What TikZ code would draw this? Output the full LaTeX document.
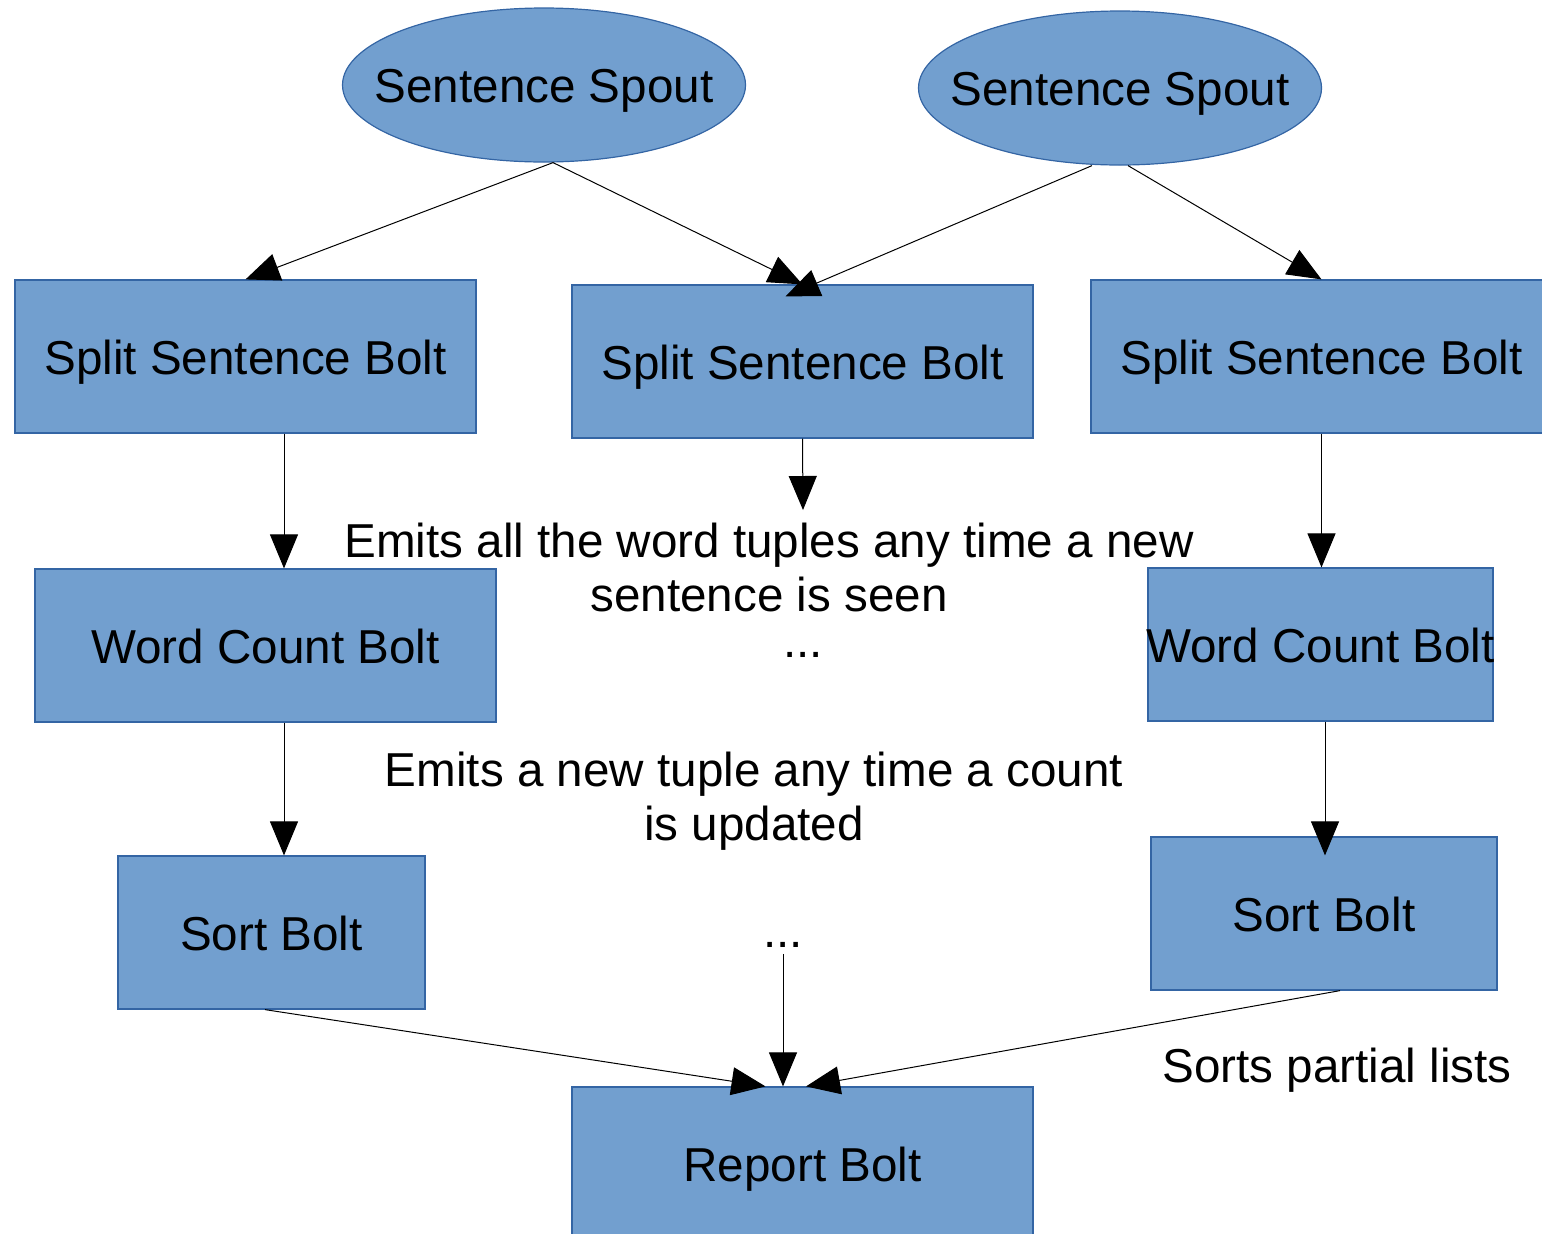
\documentclass[tikz,border=0pt]{standalone}
\usepackage{fontspec}
\setmainfont{Liberation Sans}
\usetikzlibrary{shapes.geometric,arrows.meta,calc}

\definecolor{boxfill}{HTML}{729FCF}
\definecolor{boxline}{HTML}{3465A4}

\tikzset{
  block/.style={rectangle, draw=boxline, fill=boxfill, line width=0.6pt,
    minimum height=76.5pt, inner sep=0pt, text height=18pt, text depth=0pt,
    font=\fontsize{23.8}{27}\selectfont},
  spout/.style={ellipse, draw=boxline, fill=boxfill, line width=0.6pt,
    minimum width=201.5pt, minimum height=77pt, inner sep=0pt,
    text height=17pt, text depth=0pt, font=\fontsize{23.8}{27}\selectfont},
  note/.style={align=center, inner sep=0pt, font=\fontsize{23.8}{27}\selectfont},
  flow/.style={line width=0.5pt, -{Triangle[length=17pt,width=14pt]}}
}

\begin{document}
\begin{tikzpicture}[x=0.5pt,y=-0.5pt]
  \useasboundingbox (0,0) rectangle (1542,1233);

  % spouts (label kept zero-width so the ellipse keeps its set size)
  \node[spout] (sp1) at (544,85) {\makebox[0pt]{Sentence Spout}};
  \node[spout] (sp2) at (1120,88) {\makebox[0pt]{Sentence Spout}};

  % split sentence bolts
  \node[block, minimum width=230.5pt] (ss1) at (245.5,356.5) {Split Sentence Bolt};
  \node[block, minimum width=230.5pt] (ss2) at (802.5,361.5) {Split Sentence Bolt};
  \node[block, minimum width=230.5pt] (ss3) at (1321.5,356.5) {Split Sentence Bolt};

  % word count bolts
  \node[block, minimum width=230.5pt] (wc1) at (265.5,645.5) {Word Count Bolt};
  \node[block, minimum width=172.5pt] (wc2) at (1320.5,644.5) {\makebox[0pt]{Word Count Bolt}};

  % sort bolts
  \node[block, minimum width=153.5pt] (so1) at (271.5,932.5) {Sort Bolt};
  \node[block, minimum width=173pt] (so2) at (1324,913.5) {Sort Bolt};

  % report bolt
  \node[block, minimum width=230.5pt] (rep) at (802.5,1163.5) {Report Bolt};

  % annotations
  \node[note] (n1) at (769,567) {Emits all the word tuples any time a new\\sentence is seen};
  \node[note] (d1) at (803,655) {...};
  \node[note] (n2) at (754,801) {Emits a new tuple any time a count\\is updated};
  \node[note] (d2) at (783,945) {...};
  \node[note] (n3) at (1337,1070) {Sorts partial lists};
  \coordinate (e1) at (803,510);

  % spouts to split bolts
  \draw[flow] ($(sp1.south)+(9,0)$) -- (ss1.north);
  \draw[flow] ($(sp1.south)+(9,0)$) -- (ss2.north);
  \draw[flow] ($(sp2.south)+(-28,0)$) -- ($(ss2.north)+(-17,12)$);
  \draw[flow] ($(sp2.south)+(8,0)$) -- (ss3.north);

  % split bolts downward
  \draw[flow] ($(ss1.south)+(38.5,0)$) -- ($(wc1.north)+(18.5,0)$);
  \draw[flow] (ss2.south) -- (e1);
  \draw[flow] (ss3.south) -- ($(wc2.north)+(1,0)$);

  % word count to sort
  \draw[flow] ($(wc1.south)+(18.5,0)$) -- ($(so1.north)+(12.5,0)$);
  \draw[flow] ($(wc2.south)+(4.5,0)$) -- ($(so2.north)+(1,19)$);

  % into report
  \draw[flow] ($(so1.south)+(-6.5,0)$) -- ($(rep.north)+(-37,0)$);
  \draw[flow] ($(d2.south)+(0,6)$) -- ($(rep.north)+(-19.5,0)$);
  \draw[flow] ($(so2.south)+(16,0)$) -- ($(rep.north)+(3.5,0)$);
\end{tikzpicture}
\end{document}
